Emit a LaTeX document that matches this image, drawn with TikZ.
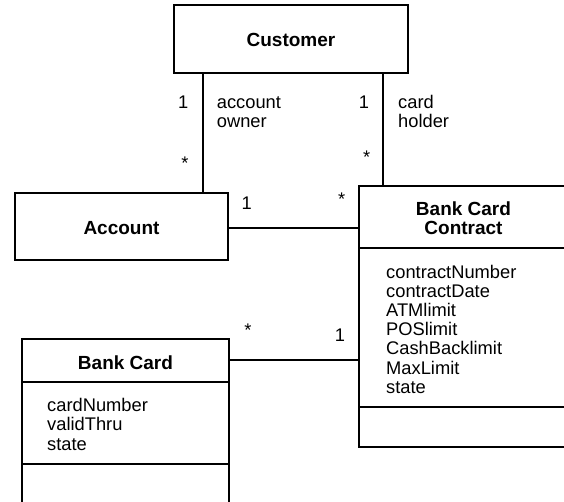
\documentclass[tikz,border=0pt]{standalone}
\usepackage{fontspec}
\setmainfont{Liberation Sans}
\begin{document}
\begin{tikzpicture}[x=1pt,y=-1pt,
  box/.style={draw, line width=1.1pt, inner sep=0pt, outer sep=0pt, anchor=north west},
  lbl/.style={font=\fontsize{18.3}{19}\selectfont, inner sep=0pt},
  ttl/.style={font=\fontsize{19}{19}\selectfont\bfseries, inner sep=0pt, anchor=base},
  attr/.style={lbl, anchor=base west},
  mult/.style={lbl, anchor=base},
  star/.style={lbl, anchor=center},
  conn/.style={line width=1.1pt}]
\useasboundingbox (0,0) rectangle (564,502);
\clip (0,0) rectangle (564,502);

% class boxes
\node[box, minimum width=234pt, minimum height=68pt] (cust) at (174,5) {};
\node[box, minimum width=213pt, minimum height=67pt] (acc) at (15,193) {};
\node[box, minimum width=209pt, minimum height=261pt] (bcc) at (359,186) {};
\node[box, minimum width=207pt, minimum height=180pt] (card) at (22,339) {};

% compartment separators
\coordinate (bccA) at (0,248);
\coordinate (bccB) at (0,407);
\coordinate (cardA) at (0,382);
\coordinate (cardB) at (0,464);
\draw[conn] (bcc.west |- bccA) -- (bcc.east |- bccA);
\draw[conn] (bcc.west |- bccB) -- (bcc.east |- bccB);
\draw[conn] (card.west |- cardA) -- (card.east |- cardA);
\draw[conn] (card.west |- cardB) -- (card.east |- cardB);

% class names
\node[ttl] (custName) at (291,46.7) {Customer};
\node[ttl] (accName) at (121.5,235) {Account};
\node[ttl] (bccName1) at (463.5,216) {Bank Card};
\node[ttl] (bccName2) at (463.5,235) {Contract};
\node[ttl] (cardName) at (125.5,369) {Bank Card};

% attributes
\foreach \t [count=\i from 0] in {contractNumber,contractDate,ATMlimit,POSlimit,CashBacklimit,MaxLimit,state}
  \node[attr] (bccAttr\i) at (386,278.3+19.17*\i) {\t};
\foreach \t [count=\i from 0] in {cardNumber,validThru,state}
  \node[attr] (cardAttr\i) at (47,411.7+19.17*\i) {\t};

% associations
\coordinate (ownX) at (203,0);
\coordinate (holdX) at (383,0);
\coordinate (accY) at (0,228);
\coordinate (cardY) at (0,360);
\draw[conn] (cust.south -| ownX) -- (acc.north -| ownX);
\draw[conn] (cust.south -| holdX) -- (bcc.north -| holdX);
\draw[conn] (acc.east |- accY) -- (bcc.west |- accY);
\draw[conn] (card.east |- cardY) -- (bcc.west |- cardY);

% role names and multiplicities
\node[mult] (m1) at (183.3,108.3) {1};
\node[attr] (r1a) at (216.7,108.3) {account};
\node[attr] (r1b) at (216.7,127.5) {owner};
\node[star] (m2) at (185,163) {*};
\node[mult] (m3) at (364,108.3) {1};
\node[attr] (r2a) at (398,108.3) {card};
\node[attr] (r2b) at (398,127.5) {holder};
\node[star] (m4) at (366.7,157) {*};
\node[mult] (m5) at (246.7,209.5) {1};
\node[star] (m6) at (341.7,199) {*};
\node[star] (m7) at (248,330.7) {*};
\node[mult] (m8) at (340,341.3) {1};
\end{tikzpicture}
\end{document}
